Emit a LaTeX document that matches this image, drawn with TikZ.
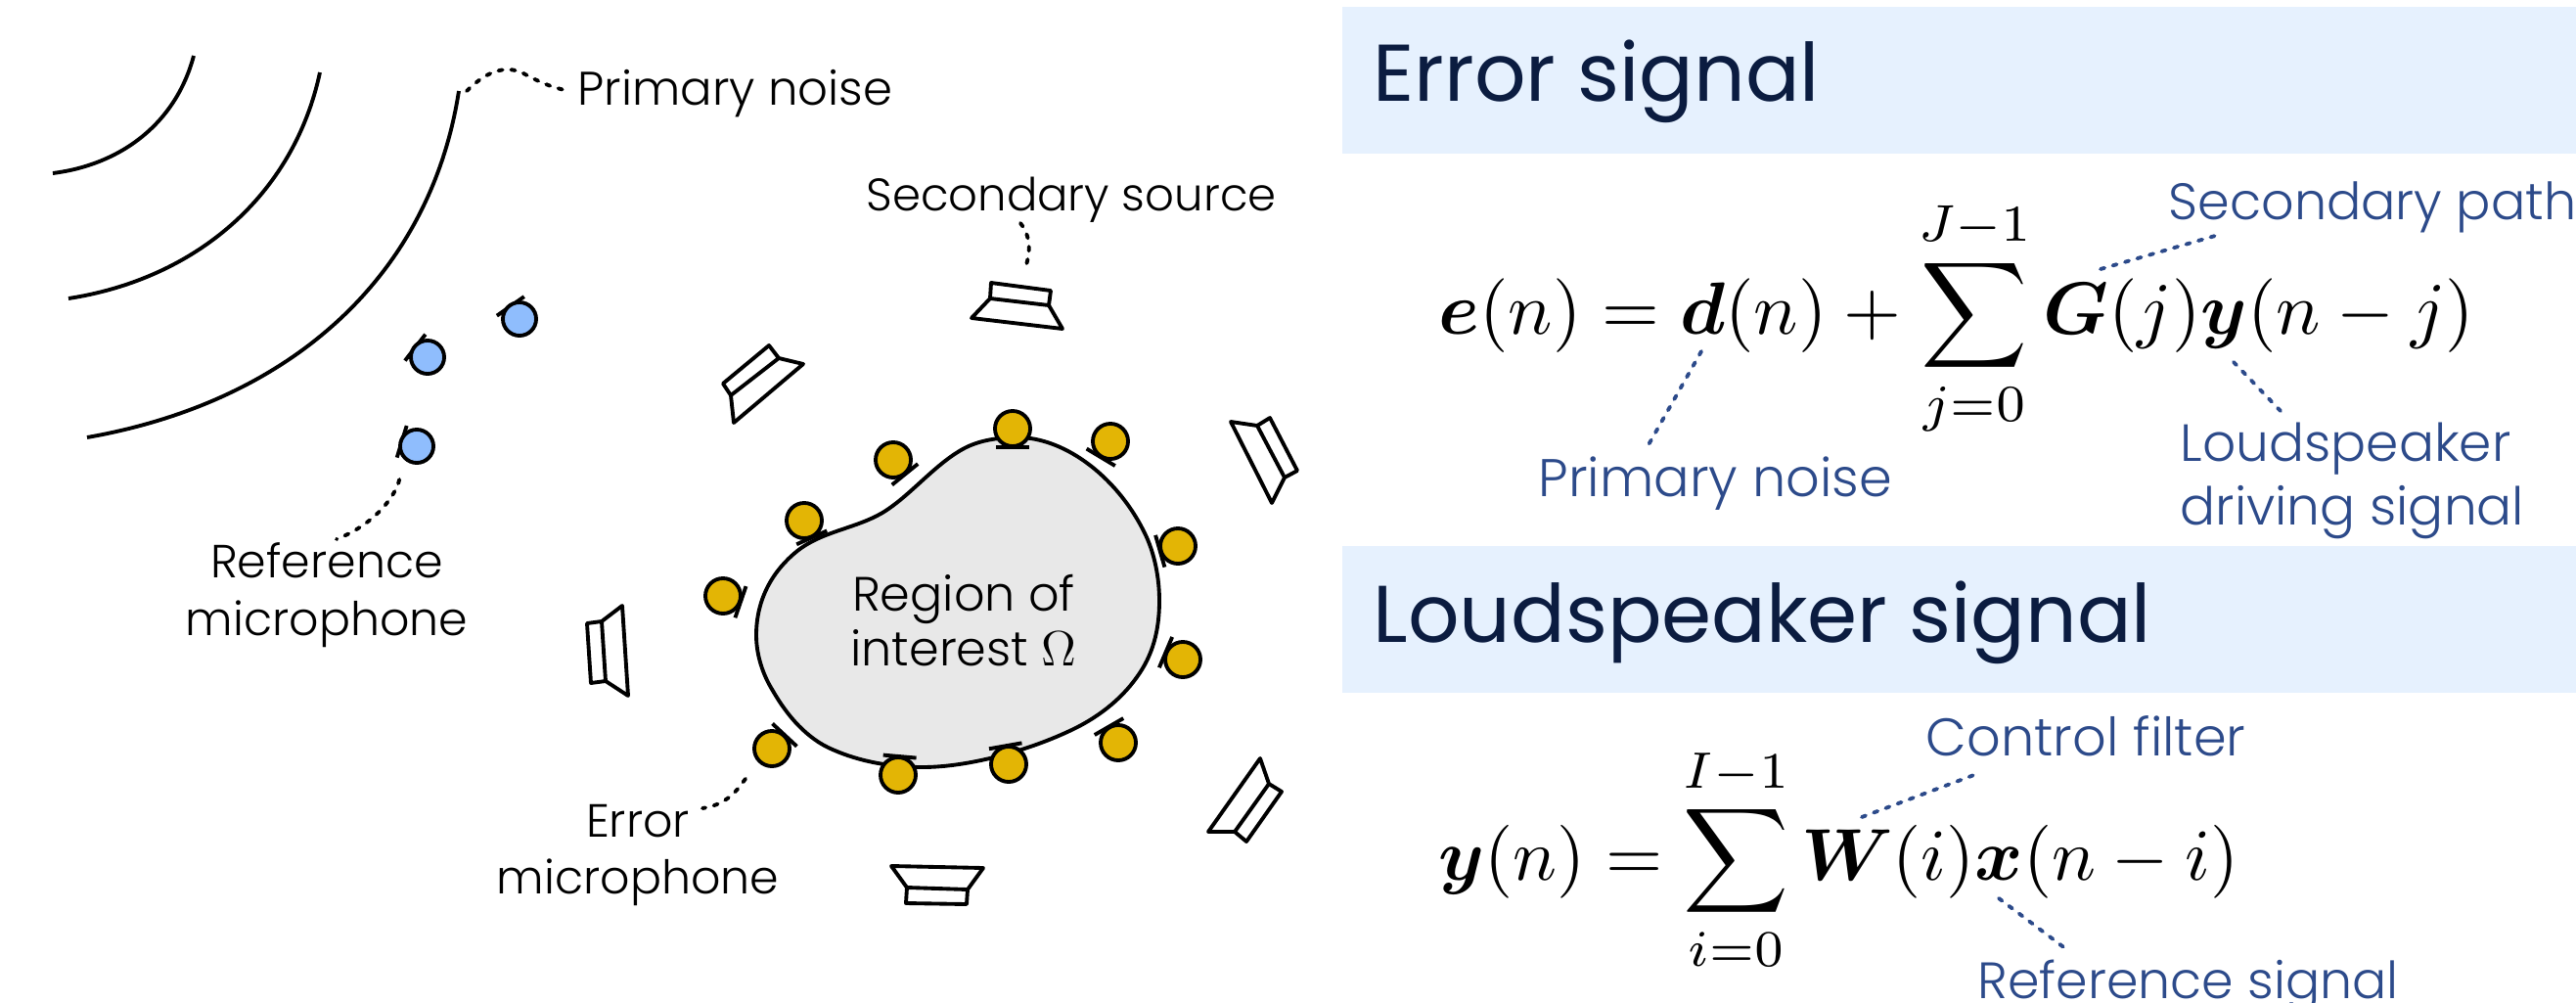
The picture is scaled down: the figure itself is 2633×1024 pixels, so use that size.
\documentclass[tikz,border=0pt]{standalone}
\usepackage{amsmath, amssymb}
\usepackage[no-math]{fontspec}
\setmainfont{Poppins Light}
\newfontfamily\titlefont{Poppins}
\usepackage{tikz}
\usetikzlibrary{positioning, calc}

\definecolor{bandblue}{HTML}{E6F1FE}
\definecolor{titlenavy}{HTML}{0B1C40}
\definecolor{notenavy}{HTML}{2C4A8A}
\definecolor{micblue}{HTML}{8FBDFD}
\definecolor{micgold}{HTML}{E3B505}
\definecolor{zonegrey}{HTML}{E8E8E8}

\begin{document}
\begin{tikzpicture}[
    x=0.01cm, y=-0.01cm,
    wave/.style={line width=1.1pt},
    spk/.style={line width=1.1pt, line join=round},
    refmic/.style={circle, draw, line width=1.1pt, fill=micblue, inner sep=0pt, minimum size=0.34cm},
    errmic/.style={circle, draw, line width=1.1pt, fill=micgold, inner sep=0pt, minimum size=0.36cm},
    micbar/.style={line width=1.1pt},
    leader/.style={line width=1.1pt, line cap=round, dash pattern=on 1.2pt off 2.5pt},
    noteleader/.style={leader, color=notenavy},
    sidelabel/.style={inner sep=0pt, font=\fontsize{13.5}{16.7}\selectfont, align=center},
    notelabel/.style={inner sep=0pt, anchor=base west, font=\fontsize{15.2}{18.4}\selectfont, color=notenavy, align=left},
    titlelabel/.style={inner sep=0pt, anchor=base west, font=\titlefont\fontsize{23.4}{28}\selectfont, color=titlenavy},
    band/.style={fill=bandblue},
    eqn/.style={inner sep=0pt, anchor=base west, scale=2.15}
]
    \useasboundingbox (0,0) rectangle (2633,1024);

    % ========== Wave fronts ==========
    \draw[wave] (198,57) .. controls (180,125) and (125,168) .. (54,177);
    \draw[wave] (327,74) .. controls (300,200) and (200,285) .. (70,305);
    \draw[wave] (469,93) .. controls (440,280) and (300,410) .. (89,447);

    % ========== Region of interest ==========
    \draw[line width=1.1pt, fill=zonegrey] (773,649)
        .. controls (773,612) and (790,583) .. (815,563)
        .. controls (840,543) and (875,540) .. (902,524)
        .. controls (930,507) and (955,475) .. (984,459)
        .. controls (1000,450) and (1020,447) .. (1040,447)
        .. controls (1090,447) and (1145,490) .. (1172,549)
        .. controls (1180,567) and (1185,590) .. (1185,614)
        .. controls (1185,645) and (1178,670) .. (1162,692)
        .. controls (1145,716) and (1120,735) .. (1091,748)
        .. controls (1050,767) and (990,784) .. (943,784)
        .. controls (910,784) and (878,778) .. (851,766)
        .. controls (825,755) and (805,732) .. (790,706)
        .. controls (780,690) and (773,670) .. cycle;
    \node[sidelabel, anchor=center, font=\fontsize{14}{15.7}\selectfont] (zone) at (985,634) {Region of\\interest $\Omega$};

    % ========== Loudspeakers ==========
    \draw[spk] (786,353) -- (796,366) -- (747,404) -- (739,392) -- cycle
               (796,366) -- (821,372) -- (750,432) -- (747,404);
    \draw[spk] (1285,435) -- (1298,427) -- (1326,481) -- (1313,488) -- cycle
               (1285,435) -- (1258,431) -- (1300,514) -- (1313,488);
    \draw[spk] (600,637) -- (615,635) -- (619,696) -- (604,698) -- cycle
               (615,635) -- (636,619) -- (642,711) -- (619,696);
    \draw[spk] (1297,801) -- (1310,809) -- (1274,860) -- (1262,850) -- cycle
               (1297,801) -- (1288,775) -- (1235,850) -- (1262,850);
    \draw[spk] (927,907) -- (989,909) -- (988,924) -- (926,923) -- cycle
               (927,907) -- (911,885) -- (1005,887) -- (989,909);
    \draw[spk] (1013,289) -- (1074,297) -- (1072,312) -- (1012,305) -- cycle
               (1012,305) -- (993,325) -- (1086,336) -- (1072,312);

    % ========== Microphones ==========
    \foreach \i/\px/\py/\a in {1/531/326/125, 2/437/365/142, 3/426/456/163} {
        \draw[micbar] ($(\px,\py)+(-\a:16)+({-\a+90}:17)$) -- ($(\px,\py)+(-\a:16)+({-\a-90}:17)$);
        \node[refmic] (ref\i) at (\px,\py) {};
    }
    \foreach \i/\px/\py/\a in {1/1035/438/270, 2/1135/451/239, 3/1204/558/196, 4/1209/674/157,
                               5/1143/759/120, 6/1031/781/100, 7/918/792/85, 8/789/765/47,
                               9/739/609/341, 10/822/532/294, 11/913/470/309} {
        \draw[micbar] ($(\px,\py)+(-\a:19)+({-\a+90}:17)$) -- ($(\px,\py)+(-\a:19)+({-\a-90}:17)$);
        \node[errmic] (err\i) at (\px,\py) {};
    }

    % ========== Left labels ==========
    \node[sidelabel, anchor=base west, font=\fontsize{13.7}{16.7}\selectfont] (primary) at (590,107) {Primary noise};
    \node[sidelabel, font=\fontsize{13.25}{16.7}\selectfont] (secsource) at (1095,204) {Secondary source};
    \node[sidelabel] (refmiclabel) at (334,608) {Reference\\microphone};
    \node[sidelabel] (errmiclabel) at (652,874) {Error\\microphone};

    \coordinate (wavefoot) at (477,93);
    \coordinate (refend) at (344,551);
    \coordinate (errend) at (718,826);
    \coordinate (secstart) at (1043,228);
    \coordinate (secend) at (1047,277);

    \draw[leader, shorten >=3.5pt] (wavefoot) .. controls (495,75) and (515,65) .. (535,75) .. controls (550,83) and (560,88) .. (primary.west);
    \draw[leader, shorten <=6pt] (ref3.south west) .. controls (405,505) and (385,535) .. (refend);
    \draw[leader, shorten <=6pt] (err8.south west) .. controls (755,805) and (745,822) .. (errend);
    \draw[leader] (secstart) .. controls (1056,245) and (1052,262) .. (secend);

    % ========== Error signal ==========
    \fill[band] (1372,7) rectangle (2633,157);
    \node[titlelabel] (errtitle) at (1403,103) {Error signal};
    \node[eqn] (erreq) at (1469,341) {$\displaystyle \boldsymbol{e}(n) = \boldsymbol{d}(n) + \sum_{j=0}^{J-1} \boldsymbol{G}(j)\boldsymbol{y}(n-j)$};
    \node[notelabel, font=\fontsize{14.9}{18.4}\selectfont] (secpath) at (2216,224) {Secondary path};
    \node[notelabel, font=\fontsize{15.4}{18.4}\selectfont] (prinote) at (1572,507) {Primary noise};
    \node[notelabel] (drivenote) at (2228,536) {Loudspeaker\\driving signal};

    \coordinate (gterm) at (2147,275);
    \coordinate (secfoot) at (2271,239);
    \coordinate (dterm) at (1739,359);
    \coordinate (prifoot) at (1683,458);
    \coordinate (yterm) at (2283,370);
    \coordinate (drivefoot) at (2333,422);
    \draw[noteleader] (gterm) -- (secfoot);
    \draw[noteleader] (dterm) -- (prifoot);
    \draw[noteleader] (yterm) -- (drivefoot);

    % ========== Loudspeaker signal ==========
    \fill[band] (1372,558) rectangle (2633,708);
    \node[titlelabel] (spktitle) at (1403,656) {Loudspeaker signal};
    \node[eqn, scale=0.99] (spkeq) at (1469,899) {$\displaystyle \boldsymbol{y}(n) = \sum_{i=0}^{I-1} \boldsymbol{W}(i)\boldsymbol{x}(n-i)$};
    \node[notelabel, font=\fontsize{15.4}{18.4}\selectfont] (filtnote) at (1968,772) {Control filter};
    \node[notelabel, font=\fontsize{14.85}{18.4}\selectfont] (refnote) at (2021,1020) {Reference signal};

    \coordinate (wterm) at (1903,835);
    \coordinate (filtfoot) at (2023,790);
    \coordinate (xterm) at (2043,918);
    \coordinate (reffoot) at (2112,970);
    \draw[noteleader] (wterm) -- (filtfoot);
    \draw[noteleader] (xterm) -- (reffoot);
\end{tikzpicture}
\end{document}
